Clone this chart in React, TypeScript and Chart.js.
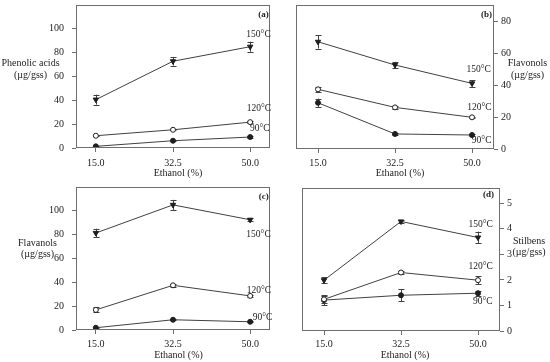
import React, { useEffect, useRef } from "react";
import { Chart, registerables } from "chart.js";

Chart.register(...registerables);

// ---------- data ----------
const ethanol = [15.0, 32.5, 50.0];
const ethanolTickLabels = ["15.0", "32.5", "50.0"];
const temperatureLabels = ["150°C", "120°C", "90°C"];

const phenolic150 = [40.6, 72.8, 85.0];
const phenolic150Err = [4.2, 3.6, 4.2];
const phenolic120 = [10.3, 15.3, 21.7];
const phenolic120Err = [0.6, 0.6, 0.6];
const phenolic90 = [1.4, 6.1, 9.2];
const phenolic90Err = [0.5, 0.5, 0.5];

const flavonols150 = [67.0, 52.5, 41.0];
const flavonols150Err = [4.2, 2.0, 2.0];
const flavonols120 = [37.3, 26.0, 19.8];
const flavonols120Err = [1.5, 1.0, 0.5];
const flavonols90 = [28.9, 9.4, 8.75];
const flavonols90Err = [2.6, 0.5, 0.5];

const flavanols150 = [81.4, 105.0, 92.5];
const flavanols150Err = [3.6, 4.2, 1.4];
const flavanols120 = [16.9, 37.5, 28.6];
const flavanols120Err = [2.0, 1.0, 0.5];
const flavanols90 = [1.9, 8.6, 6.9];
const flavanols90Err = [0.5, 0.5, 0.5];

const stilbens150 = [1.99, 4.29, 3.66];
const stilbens150Err = [0.11, 0.05, 0.23];
const stilbens120 = [1.24, 2.29, 1.99];
const stilbens120Err = [0.15, 0.07, 0.16];
const stilbens90 = [1.21, 1.4, 1.48];
const stilbens90Err = [0.2, 0.23, 0.1];

const phenolicTicks = [0, 20, 40, 60, 80, 100];
const flavonolTicks = [0, 20, 40, 60, 80];
const flavanolTicks = [0, 20, 40, 60, 80, 100];
const stilbenTicks = [0, 1, 2, 3, 4, 5];

// ---------- styles / layout ----------
const FONT = '"Liberation Serif", "Times New Roman", serif';
const LINE = "#404040";
const FRAME = "#6e6e6e";
const TEXT = "#222222";
const CW = 275;
const CH = 181;

const markerStyles = [
  { pointStyle: "triangle", rotation: 180, radius: 3.1, fill: "#1e1e1e" },
  { pointStyle: "circle", rotation: 0, radius: 2.5, fill: "#ffffff" },
  { pointStyle: "circle", rotation: 0, radius: 2.5, fill: "#1e1e1e" },
];

type Panel = {
  key: string;
  left: number;
  top: number;
  area: { l: number; t: number; r: number; b: number };
  xMin: number;
  xMax: number;
  yMax: number;
  yTicks: number[];
  yPos: "left" | "right";
  yTickPad: number;
  xTickPad: number;
  series: number[][];
  errors: number[][];
  yTitle: string[];
  yTitleX: number;
  yTitleY: number[];
  xTitleX: number;
  xTitleY: number;
  labelAt: number[][]; // data coords for temperature labels
  letter: string;
  letterAt: number[]; // data coords
};

const panels: Panel[] = [
  {
    key: "a",
    left: 0,
    top: 0,
    area: { l: 76, t: 4, r: 271, b: 148 },
    xMin: 10.5,
    xMax: 54.5,
    yMax: 120,
    yTicks: phenolicTicks,
    yPos: "left",
    yTickPad: 8,
    xTickPad: 5,
    series: [phenolic150, phenolic120, phenolic90],
    errors: [phenolic150Err, phenolic120Err, phenolic90Err],
    yTitle: ["Phenolic acids", "(µg/gss)"],
    yTitleX: 30.5,
    yTitleY: [63, 75],
    xTitleX: 178,
    xTitleY: 173,
    labelAt: [
      [51.9, 95.6],
      [52.0, 33.1],
      [52.2, 16.4],
    ],
    letter: "(a)",
    letterAt: [53.0, 112.3],
  },
  {
    key: "b",
    left: 275,
    top: 0,
    area: { l: 21, t: 5, r: 219, b: 149 },
    xMin: 10,
    xMax: 55,
    yMax: 90,
    yTicks: flavonolTicks,
    yPos: "right",
    yTickPad: 3,
    xTickPad: 4,
    series: [flavonols150, flavonols120, flavonols90],
    errors: [flavonols150Err, flavonols120Err, flavonols90Err],
    yTitle: ["Flavonols", "(µg/gss)"],
    yTitleX: 252.5,
    yTitleY: [63.5, 75],
    xTitleX: 125,
    xTitleY: 173,
    labelAt: [
      [51.5, 49.4],
      [51.7, 26.1],
      [52.2, 5.2],
    ],
    letter: "(b)",
    letterAt: [53.3, 83.75],
  },
  {
    key: "c",
    left: 0,
    top: 181,
    area: { l: 76, t: 6, r: 271, b: 149 },
    xMin: 10.5,
    xMax: 54.5,
    yMax: 120,
    yTicks: flavanolTicks,
    yPos: "left",
    yTickPad: 8,
    xTickPad: 4,
    series: [flavanols150, flavanols120, flavanols90],
    errors: [flavanols150Err, flavanols120Err, flavanols90Err],
    yTitle: ["Flavanols", "(µg/gss)"],
    yTitleX: 37.5,
    yTitleY: [62, 73],
    xTitleX: 178.5,
    xTitleY: 174,
    labelAt: [
      [51.9, 79.8],
      [52.0, 33.4],
      [52.8, 10.3],
    ],
    letter: "(c)",
    letterAt: [53.1, 112],
  },
  {
    key: "d",
    left: 275,
    top: 181,
    area: { l: 27, t: 7, r: 225, b: 150 },
    xMin: 10,
    xMax: 55,
    yMax: 5.6,
    yTicks: stilbenTicks,
    yPos: "right",
    yTickPad: 3,
    xTickPad: 3,
    series: [stilbens150, stilbens120, stilbens90],
    errors: [stilbens150Err, stilbens120Err, stilbens90Err],
    yTitle: ["Stilbens", "(µg/gss)"],
    yTitleX: 254,
    yTitleY: [60.5, 71.5],
    xTitleX: 130,
    xTitleY: 174,
    labelAt: [
      [50.6, 4.18],
      [50.6, 2.51],
      [51.1, 1.15],
    ],
    letter: "(d)",
    letterAt: [52.4, 5.33],
  },
];

function makeConfig(p: Panel): any {
  const datasets = p.series.map((vals, si) => {
    const m = markerStyles[si];
    return {
      label: temperatureLabels[si],
      data: vals.map((v, i) => ({ x: ethanol[i], y: v })),
      errors: p.errors[si],
      borderColor: LINE,
      borderWidth: 1,
      pointStyle: m.pointStyle,
      rotation: m.rotation,
      pointRadius: m.radius,
      pointBackgroundColor: m.fill,
      pointBorderColor: "#1e1e1e",
      pointBorderWidth: 1,
      tension: 0,
      fill: false,
    };
  });

  const decor = {
    id: "decor" + p.key,
    beforeDatasetsDraw(chart: any) {
      const { ctx } = chart;
      const xs = chart.scales.x;
      const ys = chart.scales.y;
      ctx.save();
      ctx.strokeStyle = LINE;
      ctx.lineWidth = 1;
      chart.data.datasets.forEach((ds: any) => {
        ds.data.forEach((pt: any, i: number) => {
          const e = ds.errors[i];
          if (!e) return;
          const x = Math.round(xs.getPixelForValue(pt.x)) + 0.5;
          const y1 = ys.getPixelForValue(pt.y + e);
          const y2 = ys.getPixelForValue(pt.y - e);
          ctx.beginPath();
          ctx.moveTo(x, y1);
          ctx.lineTo(x, y2);
          ctx.moveTo(x - 3, Math.round(y1) + 0.5);
          ctx.lineTo(x + 3, Math.round(y1) + 0.5);
          ctx.moveTo(x - 3, Math.round(y2) + 0.5);
          ctx.lineTo(x + 3, Math.round(y2) + 0.5);
          ctx.stroke();
        });
      });
      ctx.restore();
    },
    afterDraw(chart: any) {
      const { ctx, chartArea } = chart;
      const xs = chart.scales.x;
      const ys = chart.scales.y;
      ctx.save();
      // frame
      ctx.strokeStyle = FRAME;
      ctx.lineWidth = 1;
      const l = Math.round(chartArea.left) + 0.5;
      const t = Math.round(chartArea.top) + 0.5;
      const r = Math.round(chartArea.right) - 0.5;
      const b = Math.round(chartArea.bottom) - 0.5;
      ctx.strokeRect(l, t, r - l, b - t);

      ctx.fillStyle = TEXT;
      ctx.textAlign = "center";
      ctx.textBaseline = "middle";
      // temperature labels
      ctx.font = `9.5px ${FONT}`;
      p.labelAt.forEach((pos, i) => {
        ctx.fillText(temperatureLabels[i], xs.getPixelForValue(pos[0]), ys.getPixelForValue(pos[1]));
      });
      // panel letter
      ctx.font = `bold 9px ${FONT}`;
      ctx.fillText(p.letter, xs.getPixelForValue(p.letterAt[0]), ys.getPixelForValue(p.letterAt[1]));
      // axis titles
      ctx.font = `10px ${FONT}`;
      p.yTitle.forEach((line, i) => {
        ctx.fillText(line, p.yTitleX, p.yTitleY[i]);
      });
      ctx.fillText("Ethanol (%)", p.xTitleX, p.xTitleY);
      ctx.restore();
    },
  };

  return {
    type: "line",
    data: { datasets },
    plugins: [decor],
    options: {
      animation: false,
      responsive: false,
      devicePixelRatio: 1,
      layout: {
        padding: {
          left: p.yPos === "left" ? 0 : p.area.l,
          right: p.yPos === "right" ? 0 : CW - p.area.r,
          top: p.area.t,
          bottom: 0,
        },
      },
      plugins: {
        legend: { display: false },
        tooltip: { enabled: false },
        title: { display: false },
      },
      scales: {
        x: {
          type: "linear",
          position: "bottom",
          min: p.xMin,
          max: p.xMax,
          afterBuildTicks: (s: any) => {
            s.ticks = ethanol.map((v) => ({ value: v }));
          },
          afterFit: (s: any) => {
            s.height = CH - p.area.b;
            s.paddingLeft = 0;
            s.paddingRight = 0;
          },
          ticks: {
            autoSkip: false,
            maxRotation: 0,
            padding: p.xTickPad,
            color: TEXT,
            font: { family: FONT, size: 10 },
            callback: (_v: any, i: number) => ethanolTickLabels[i],
          },
          grid: {
            drawOnChartArea: false,
            drawTicks: true,
            tickLength: 4,
            color: FRAME,
          },
          border: { display: false },
        },
        y: {
          type: "linear",
          position: p.yPos,
          min: 0,
          max: p.yMax,
          afterBuildTicks: (s: any) => {
            s.ticks = p.yTicks.map((v) => ({ value: v }));
          },
          afterFit: (s: any) => {
            s.width = p.yPos === "left" ? p.area.l : CW - p.area.r;
            s.paddingTop = 0;
            s.paddingBottom = 0;
          },
          ticks: {
            autoSkip: false,
            padding: p.yTickPad,
            color: TEXT,
            font: { family: FONT, size: 10 },
            callback: (v: any) => String(v),
          },
          grid: {
            drawOnChartArea: false,
            drawTicks: true,
            tickLength: 4,
            color: FRAME,
          },
          border: { display: false },
        },
      },
    },
  };
}

function PanelChart({ p }: { p: Panel }) {
  const ref = useRef<HTMLCanvasElement | null>(null);
  useEffect(() => {
    if (!ref.current) return;
    const chart = new Chart(ref.current, makeConfig(p));
    return () => chart.destroy();
  }, [p]);
  return (
    <canvas
      ref={ref}
      width={CW}
      height={CH}
      style={{ position: "absolute", left: p.left, top: p.top, width: CW, height: CH }}
    />
  );
}

export default function App() {
  return (
    <div
      style={{
        position: "absolute",
        left: 0,
        top: 0,
        width: 550,
        height: 362,
        background: "#ffffff",
        overflow: "hidden",
      }}
    >
      {panels.map((p) => (
        <PanelChart key={p.key} p={p} />
      ))}
    </div>
  );
}
